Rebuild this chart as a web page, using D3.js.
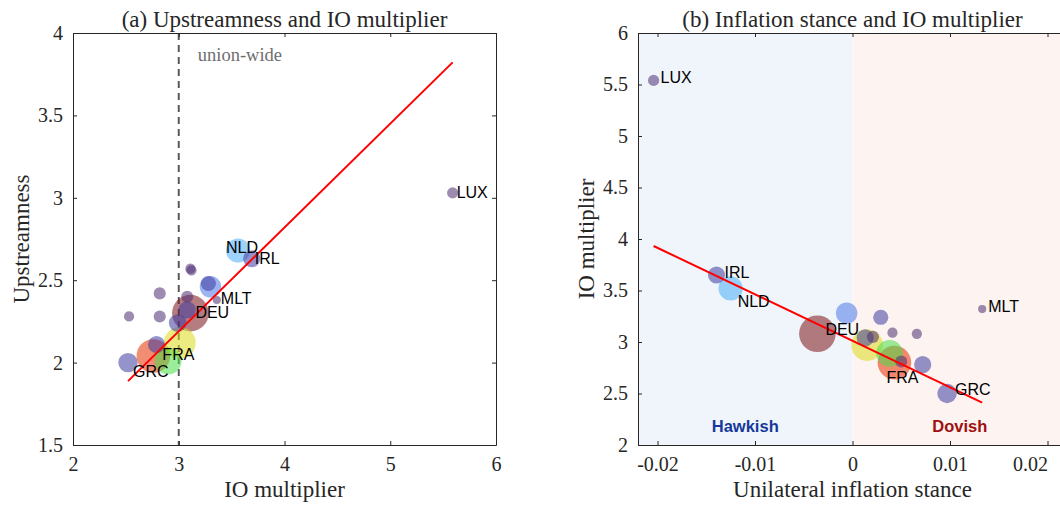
<!DOCTYPE html>
<html>
<head>
<meta charset="utf-8">
<script src="https://cdn.jsdelivr.net/npm/d3@7"></script>
<style>
  body { margin: 0; background: #fff; }
  svg { display: block; }
  .tick text { font-family: 'Liberation Serif', 'Times New Roman', serif; font-size: 20px; fill: #262626; }
  .tick line, .domain { stroke: #262626; }
</style>
</head>
<body>
<div id="chart"></div>
<script>
// data
const countries = ['DEU', 'FRA', 'ITA', 'ESP', 'NLD', 'BEL', 'IRL', 'AUT', 'FIN', 'PRT',
                   'GRC', 'SVK', 'SVN', 'LTU', 'HRV', 'CYP', 'EST', 'LVA', 'LUX', 'MLT'];
// panel (a)
const ioMultA  = [3.11, 2.76, 3.01, 2.90, 3.56, 3.30, 3.69, 3.28, 3.08, 2.99,
                  2.52, 3.11, 3.12, 3.08, 2.82, 2.82, 2.53, 2.79, 5.59, 3.36];
const upstream = [2.30, 2.04, 2.12, 2.01, 2.68, 2.46, 2.63, 2.48, 2.32, 2.24,
                  2.00, 2.57, 2.56, 2.40, 2.42, 2.28, 2.28, 2.11, 3.03, 2.38];
// panel (b), null = not visible in the panel
const stance   = [-0.0036, 0.0043, 0.0015, 0.0038, -0.0125, -0.0006, -0.01395, 0.0029, 0.0013, null,
                  0.0097, 0.0041, 0.0066, 0.0021, 0.0050, null, null, 0.0072, -0.0204, 0.0133];
const ioMultB  = [3.08, 2.80, 2.97, 2.89, 3.52, 3.28, 3.65, 3.24, 3.04, null,
                  2.50, 3.09, 3.08, 3.05, 2.81, null, null, 2.78, 5.54, 3.32];
// bubble size (economic weight)
const weight   = [32, 27, 24, 17, 14, 11, 7, 5.5, 7, 7.5,
                  9, 2.5, 2.5, 3.5, 3.5, 3.5, 2.5, 7, 3, 1.6];

const labelled = ['LUX', 'IRL', 'NLD', 'MLT', 'DEU', 'FRA', 'GRC'];

const xTicksA = [2, 3, 4, 5, 6];
const yTicksA = [1.5, 2, 2.5, 3, 3.5, 4];
const xTicksB = [-0.02, -0.01, 0, 0.01, 0.02];
const yTicksB = [2, 2.5, 3, 3.5, 4, 4.5, 5, 5.5, 6];

const fitA = { slope: 0.63, intercept: 0.30 };   // upstreamness on IO multiplier
const fitB = { slope: -45.1, intercept: 3.012 }; // IO multiplier on stance
const unionWide = 3;

// label nudges in px
const nudgeA = { LUX: [4, 0], IRL: [3, 0], NLD: [-12, -3], MLT: [4, -2], DEU: [5, -1], FRA: [9, -2], GRC: [5, 9] };
const nudgeB = { LUX: [7, -3], IRL: [8, -3], NLD: [7, 13], MLT: [6, -3], DEU: [8, -4], FRA: [-8, 15], GRC: [8, -4] };

const colour = {
  DEU: '#7a1217', FRA: '#e33000', ITA: '#dada1b', ESP: '#48dc48',
  NLD: '#4cadfa', BEL: '#4c76e8'
};
const midPurple = '#3d3a9e', smallPurple = '#4c2d72';
const fillOf = (c, w) => colour[c] || (w >= 5 ? midPurple : smallPurple);

const W = 1060, H = 508;
const svg = d3.select('#chart').append('svg').attr('width', W).attr('height', H);

const r = d3.scaleSqrt().domain([0, 32]).range([0, 18.3]);

const rows = countries.map((c, i) => ({
  c, w: weight[i], ioA: ioMultA[i], up: upstream[i], st: stance[i], ioB: ioMultB[i]
})).sort((a, b) => b.w - a.w);

const serif = "'Liberation Serif', 'Times New Roman', serif";
const sans = "'Liberation Sans', Arial, Helvetica, sans-serif";

function frame(g, x, y, xt, yt, fmt) {
  const iw = x.range()[1] - x.range()[0], ih = y.range()[0] - y.range()[1];
  const bottom = g.append('g').attr('transform', `translate(0,${ih})`)
    .call(d3.axisBottom(x).tickValues(xt).tickFormat(fmt).tickSizeInner(-4).tickSizeOuter(0).tickPadding(12));
  g.append('g')
    .call(d3.axisLeft(y).tickValues(yt).tickFormat(d => d).tickSizeInner(-4).tickSizeOuter(0).tickPadding(10));
  g.append('g')
    .call(d3.axisTop(x).tickValues(xt).tickFormat('').tickSizeInner(-4).tickSizeOuter(0));
  g.append('g').attr('transform', `translate(${iw},0)`)
    .call(d3.axisRight(y).tickValues(yt).tickFormat('').tickSizeInner(-4).tickSizeOuter(0));
  return bottom;
}

function bubbles(g, data, x, y, nudge) {
  g.append('g').selectAll('circle').data(data).join('circle')
    .attr('cx', d => x(d.px)).attr('cy', d => y(d.py))
    .attr('r', d => r(d.w))
    .attr('fill', d => fillOf(d.c, d.w))
    .attr('fill-opacity', 0.55);
  return function labels() {
    g.append('g').selectAll('text').data(data.filter(d => labelled.includes(d.c))).join('text')
      .attr('x', d => x(d.px) + nudge[d.c][0])
      .attr('y', d => y(d.py) + nudge[d.c][1])
      .attr('dy', '0.35em')
      .style('font-family', sans).style('font-size', '16px').attr('fill', '#000')
      .text(d => d.c);
  };
}

function titleAndLabels(g, iw, ih, title, xl, yl) {
  g.append('text').attr('x', iw / 2).attr('y', -6).attr('text-anchor', 'middle')
    .style('font-family', serif).style('font-size', '23px').attr('fill', '#262626').text(title);
  g.append('text').attr('x', iw / 2).attr('y', ih + 52).attr('text-anchor', 'middle')
    .style('font-family', serif).style('font-size', '23px').attr('fill', '#262626').text(xl);
  g.append('text').attr('transform', `translate(-44,${ih / 2}) rotate(-90)`).attr('text-anchor', 'middle')
    .style('font-family', serif).style('font-size', '23px').attr('fill', '#262626').text(yl);
}

// ---- panel (a)
{
  const left = 73, top = 33, iw = 423, ih = 412;
  const g = svg.append('g').attr('transform', `translate(${left},${top})`);
  const x = d3.scaleLinear().domain([2, 6]).range([0, iw]);
  const y = d3.scaleLinear().domain([1.5, 4]).range([ih, 0]);

  g.append('line')
    .attr('x1', x(unionWide)).attr('x2', x(unionWide)).attr('y1', 0).attr('y2', ih)
    .attr('stroke', '#5a5a5a').attr('stroke-width', 2).attr('stroke-dasharray', '7,5');
  g.append('text').attr('x', x(unionWide) + 19).attr('y', 28)
    .style('font-family', serif).style('font-size', '18.5px').attr('fill', '#6e6e6e').text('union-wide');

  const data = rows.map(d => ({ c: d.c, w: d.w, px: d.ioA, py: d.up }));
  const labels = bubbles(g, data, x, y, nudgeA);

  const ext = d3.extent(ioMultA);
  g.append('path')
    .datum(ext.map(v => [v, fitA.intercept + fitA.slope * v]))
    .attr('d', d3.line().x(d => x(d[0])).y(d => y(d[1])))
    .attr('stroke', '#ff0000').attr('stroke-width', 2).attr('fill', 'none');
  labels();

  frame(g, x, y, xTicksA, yTicksA, d => d);
  titleAndLabels(g, iw, ih, '(a) Upstreamness and IO multiplier', 'IO multiplier', 'Upstreamness');
}

// ---- panel (b)
{
  const left = 638, top = 33, iw = 429, ih = 412;
  const g = svg.append('g').attr('transform', `translate(${left},${top})`);
  const x = d3.scaleLinear().domain([-0.022, 0.022]).range([0, iw]);
  const y = d3.scaleLinear().domain([2, 6]).range([ih, 0]);

  g.append('rect').attr('x', x(-0.022)).attr('y', 0).attr('width', x(0) - x(-0.022)).attr('height', ih)
    .attr('fill', '#f0f5fb');
  g.append('rect').attr('x', x(0)).attr('y', 0).attr('width', x(0.022) - x(0)).attr('height', ih)
    .attr('fill', '#fdf3f0');
  g.append('text').attr('x', x(-0.011)).attr('y', ih - 13).attr('text-anchor', 'middle')
    .style('font-family', sans).style('font-weight', 'bold').style('font-size', '16.5px')
    .attr('fill', '#15399a').text('Hawkish');
  g.append('text').attr('x', x(0.011)).attr('y', ih - 13).attr('text-anchor', 'middle')
    .style('font-family', sans).style('font-weight', 'bold').style('font-size', '16.5px')
    .attr('fill', '#9e0f0f').text('Dovish');

  const data = rows.filter(d => d.st != null).map(d => ({ c: d.c, w: d.w, px: d.st, py: d.ioB }));
  const labels = bubbles(g, data, x, y, nudgeB);

  const ext = d3.extent(stance.filter(v => v != null));
  g.append('path')
    .datum(ext.map(v => [v, fitB.intercept + fitB.slope * v]))
    .attr('d', d3.line().x(d => x(d[0])).y(d => y(d[1])))
    .attr('stroke', '#ff0000').attr('stroke-width', 2).attr('fill', 'none');
  labels();

  const bottom = frame(g, x, y, xTicksB, yTicksB, d => d);
  // the last label sits at the page edge: end it at its tick
  bottom.selectAll('.tick text').filter(d => d === xTicksB[xTicksB.length - 1])
    .attr('text-anchor', 'end');
  titleAndLabels(g, iw, ih, '(b) Inflation stance and IO multiplier', 'Unilateral inflation stance', 'IO multiplier');
}
</script>
</body>
</html>
